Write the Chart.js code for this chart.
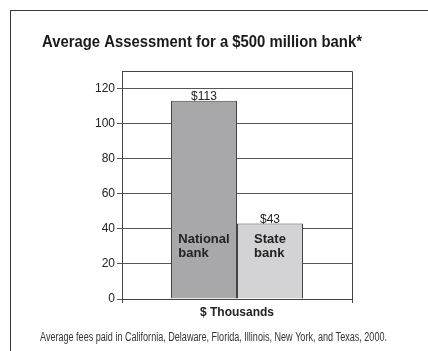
<!DOCTYPE html>
<html>
<head>
<meta charset="utf-8">
<script src="https://cdn.jsdelivr.net/npm/chart.js@4"></script>
<style>
  html, body { margin:0; padding:0; background:#fff; overflow:hidden; }
  #wrap { position:relative; width:428px; height:351px; }
  #frame { position:absolute; left:10px; top:10px; width:600px; height:600px; border:1px solid #3a3a3a; box-sizing:border-box; }
  canvas { position:absolute; left:0; top:0; }
</style>
</head>
<body>
<div id="wrap">
  <div id="frame"></div>
  <canvas id="c" width="428" height="351"></canvas>
</div>
<script>
const titleText = "Average Assessment for a $500 million bank*";
const footnoteText = "Average fees paid in California, Delaware, Florida, Illinois, New York, and Texas, 2000.";
const categories = ["$ Thousands"];
const seriesNames = ["National bank", "State bank"];
const nationalValues = [113];
const stateValues = [43];
const yTicks = [0, 20, 40, 60, 80, 100, 120];
const yMax = 130;
const innerLabelValue = 30;

const sans = "'Liberation Sans', Arial, Helvetica, sans-serif";

const decor = {
  id: 'decor',
  beforeDatasetsDraw(chart) {
    const {ctx, chartArea: a} = chart;
    ctx.save();
    ctx.strokeStyle = '#444';
    ctx.lineWidth = 1;
    ctx.beginPath();
    ctx.moveTo(a.left, a.top + 0.5);
    ctx.lineTo(a.right + 0.5, a.top + 0.5);
    ctx.lineTo(a.right + 0.5, a.bottom);
    ctx.stroke();
    ctx.restore();
  },
  afterDatasetsDraw(chart) {
    const {ctx} = chart;
    const yScale = chart.scales.y;
    ctx.save();
    chart.data.datasets.forEach((ds, di) => {
      const meta = chart.getDatasetMeta(di);
      meta.data.forEach((bar, i) => {
        const v = ds.data[i];
        ctx.font = "12px " + sans;
        ctx.fillStyle = '#222';
        ctx.textAlign = 'center';
        ctx.textBaseline = 'alphabetic';
        ctx.fillText('$' + v, bar.x, bar.y - 1);
        ctx.font = "bold 13px " + sans;
        const lines = ds.label.split(' ');
        const w = Math.max(...lines.map(l => ctx.measureText(l).width));
        const left = bar.x - w / 2;
        const cy = yScale.getPixelForValue(innerLabelValue);
        const lh = 13.5;
        ctx.textAlign = 'left';
        ctx.textBaseline = 'middle';
        lines.forEach((l, k) => {
          ctx.fillText(l, left, cy + (k - (lines.length - 1) / 2) * lh);
        });
      });
    });
    ctx.textAlign = 'left';
    ctx.textBaseline = 'alphabetic';
    ctx.font = "bold 17px " + sans;
    ctx.fillStyle = '#1a1a1a';
    const tw = ctx.measureText(titleText).width;
    ctx.fillText(titleText, 42, 47, Math.min(tw, 320));
    ctx.font = "12.5px " + sans;
    ctx.fillStyle = '#333';
    const fw = ctx.measureText(footnoteText).width;
    ctx.fillText(footnoteText, 40, 341, Math.min(fw, 347));
    ctx.restore();
  }
};

new Chart(document.getElementById('c'), {
  type: 'bar',
  data: {
    labels: categories,
    datasets: [
      { label: seriesNames[0], data: nationalValues, backgroundColor: '#a8a8ab', borderColor: '#444', borderWidth: 1 },
      { label: seriesNames[1], data: stateValues, backgroundColor: '#d3d3d5', borderColor: '#444', borderWidth: 1 }
    ]
  },
  options: {
    responsive: false,
    animation: false,
    devicePixelRatio: 1,
    categoryPercentage: 0.574,
    barPercentage: 1,
    layout: { padding: { left: 0, right: 76, top: 71, bottom: 0 } },
    plugins: { legend: { display: false }, tooltip: { enabled: false }, title: { display: false } },
    scales: {
      x: {
        grid: { display: true, drawOnChartArea: false, drawTicks: true, tickLength: 4, color: '#444' },
        border: { display: true, color: '#444', width: 1 },
        ticks: { font: { family: sans, size: 12, weight: 'bold' }, color: '#222', padding: 2 },
        afterFit(s) { s.height = 52; }
      },
      y: {
        min: 0, max: yMax,
        afterBuildTicks(s) { s.ticks = yTicks.map(v => ({ value: v })); },
        grid: { color: '#555', tickLength: 5, lineWidth: 1 },
        border: { display: true, color: '#444', width: 1 },
        ticks: { font: { family: sans, size: 12 }, color: '#222', padding: 2, includeBounds: false },
        afterFit(s) { s.width = 122; }
      }
    }
  },
  plugins: [decor]
});
</script>
</body>
</html>
